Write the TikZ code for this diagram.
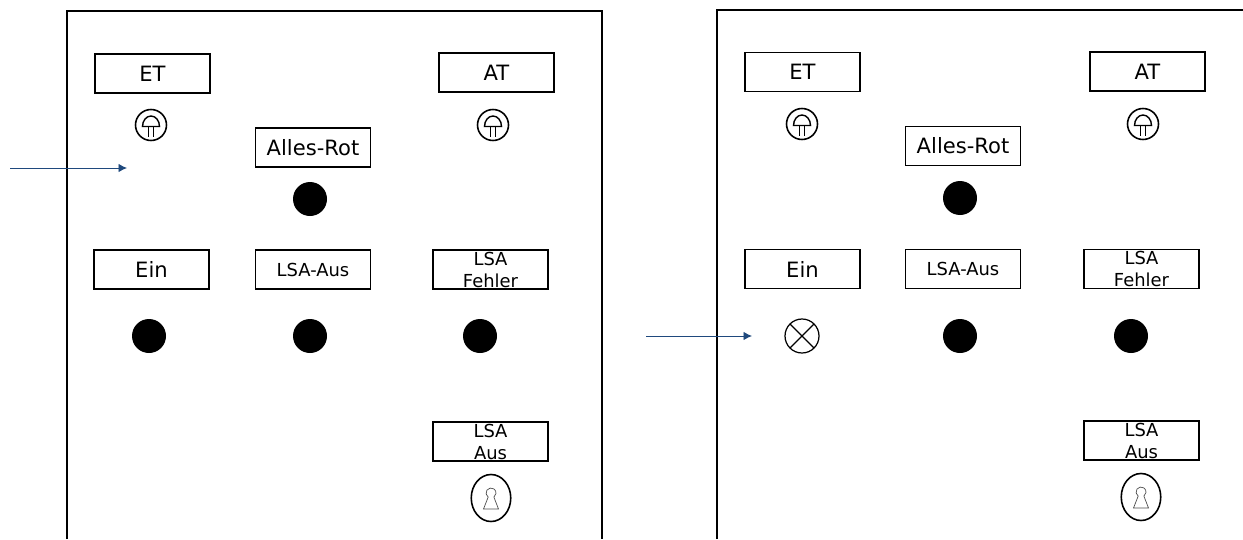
\documentclass[tikz,border=0pt]{standalone}
\usepackage{fontspec}
\setmainfont{DejaVu Sans}
\usetikzlibrary{arrows.meta}
\definecolor{pfeilblau}{RGB}{31,73,125}
\tikzset{
  schild/.style={draw, line width=1pt, minimum width=2.3cm, minimum height=0.78cm, inner sep=0pt, align=center, font=\fontsize{12}{12.5}\selectfont},
  schildklein/.style={schild, font=\fontsize{10.2}{12.5}\selectfont},
  leuchte/.style={circle, fill=black, minimum size=0.68cm, inner sep=0pt},
  lampe/.style={circle, draw, line width=0.7pt, minimum size=0.68cm, inner sep=0pt, path picture={
    \draw[line width=0.7pt] (path picture bounding box.north west) -- (path picture bounding box.south east)
      (path picture bounding box.north east) -- (path picture bounding box.south west);}},
  rahmen/.style={line width=0.9pt},
  pfeil/.style={-{Latex[length=1.7mm,width=1.7mm]}, pfeilblau, line width=0.5pt},
  pilz/.pic={
    \draw[line width=0.9pt] (0,0) circle (3.1mm);
    \draw[line width=0.8pt] (-1.7mm,-0.3mm) arc (180:0:1.7mm and 2.1mm) -- cycle;
    \draw[line width=0.7pt] (-0.5mm,-0.3mm) -- (-0.5mm,-2.4mm) (0.5mm,-0.3mm) -- (0.5mm,-2.4mm);
  },
  schloss/.pic={
    \draw[line width=0.9pt] (0,0) ellipse (3.95mm and 4.7mm);
    \draw[line width=0.4pt, black!70] (-0.57mm,0.18mm) arc (235:-55:1mm) -- (1.5mm,-2.2mm) -- (-1.5mm,-2.2mm) -- cycle;
  },
}
\begin{document}
\begin{tikzpicture}[x=0.2mm, y=-0.2mm]

\useasboundingbox (0,0) rectangle (1243,539);

% linke Tafel
\draw[rahmen] (67,539) -- (67,11) -- (602,11) -- (602,539);

\node[schild] (etL) at (152.5,73.5) {ET};
\node[schild] (atL) at (496.5,72.5) {AT};
\node[schild] (rotL) at (313,147.5) {Alles-Rot};
\node[schild] (einL) at (151.5,269.5) {Ein};
\node[schildklein] (ausL) at (313,269.5) {LSA-Aus};
\node[schildklein] (fehlerL) at (490.5,269.5) {LSA\\Fehler};
\node[schildklein] (schalterL) at (490.5,441.5) {LSA\\Aus};

\pic at (151,125) {pilz};
\pic at (493,125) {pilz};
\pic at (491,498) {schloss};

\node[leuchte] (rotLampeL) at (310,199) {};
\node[leuchte] (einLampeL) at (149,336) {};
\node[leuchte] (ausLampeL) at (310,336) {};
\node[leuchte] (fehlerLampeL) at (480,336) {};

\coordinate (startL) at (10,168);
\coordinate (zielL) at (127,168);
\draw[pfeil] (startL) -- (zielL);

% rechte Tafel
\draw[line width=0.7pt] (717,539) -- (717,10) -- (1243,10);

\node[schild] (etR) at (802.5,72) {ET};
\node[schild] (atR) at (1147.5,71.5) {AT};
\node[schild] (rotR) at (963,146) {Alles-Rot};
\node[schild] (einR) at (802.5,269) {Ein};
\node[schildklein] (ausR) at (963,269) {LSA-Aus};
\node[schildklein] (fehlerR) at (1141.5,269) {LSA\\Fehler};
\node[schildklein] (schalterR) at (1141.5,440.5) {LSA\\Aus};

\pic at (802,124) {pilz};
\pic at (1143,124) {pilz};
\pic at (1141,497) {schloss};

\node[leuchte] (rotLampeR) at (960,198) {};
\node[lampe] (einLampeR) at (802,336) {};
\node[leuchte] (ausLampeR) at (960,336) {};
\node[leuchte] (fehlerLampeR) at (1131,336) {};

\coordinate (startR) at (646,336);
\coordinate (zielR) at (752,336);
\draw[pfeil] (startR) -- (zielR);

\end{tikzpicture}
\end{document}
